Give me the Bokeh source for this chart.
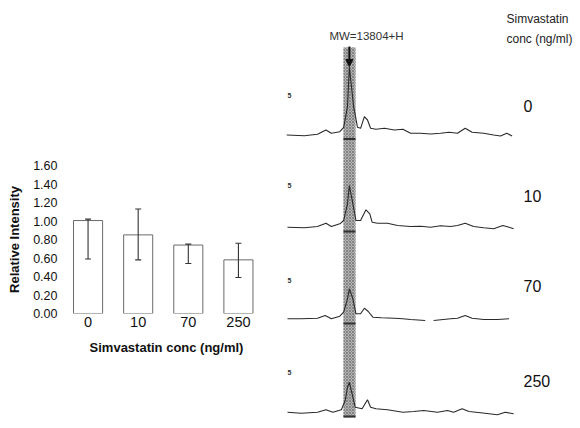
from bokeh.plotting import figure
from bokeh.layouts import row
from bokeh.models import (Range1d, FixedTicker, Whisker, ColumnDataSource, TeeHead,
                          Arrow, NormalHead, PrintfTickFormatter)
from bokeh.core.properties import value
from bokeh.embed import file_html
from bokeh.resources import INLINE

# ---------------- data: bar chart ----------------
cats = ["0", "10", "70", "250"]                 # Simvastatin conc (ng/ml)
means = [1.005, 0.85, 0.74, 0.58]               # relative intensity
err_hi = [1.02, 1.13, 0.75, 0.76]
err_lo = [0.59, 0.58, 0.54, 0.39]
y_ticks = [0.0, 0.2, 0.4, 0.6, 0.8, 1.0, 1.2, 1.4, 1.6]

# ---------------- data: spectra (m/z, intensity a.u. above baseline) ----------------
nan = float("nan")
mz_0 = [12990, 13220, 13390, 13500, 13570, 13680, 13730, 13780, 13804, 13860, 13910, 13950,
        14000, 14040, 14080, 14150, 14260, 14390, 14500, 14600, 14730, 14860, 14990, 15100,
        15210, 15310, 15400, 15550, 15680, 15770, 15850, 15920]
int_0 = [-1.0, -1.7, -0.3, 4.0, 0.7, 2.3, 6.7, 27.3, 67.0, 27.3, 6.7, 5.7,
         17.3, 14.0, 5.7, 4.7, 5.7, 4.0, 4.7, 0.7, 0.7, 0.0, 0.7, 1.7,
         0.7, 5.7, 1.7, 0.7, -1.0, -2.0, 0.7, -2.0]

mz_10 = [13000, 13220, 13390, 13500, 13570, 13680, 13730, 13780, 13804, 13850, 13890, 13950,
         14020, 14070, 14100, 14170, 14300, 14430, 14600, 14730, 14860, 14990, 15120, 15210,
         15310, 15420, 15550, 15680, 15800, 15880, 15940]
int_10 = [-0.7, -1.3, 0.0, 3.3, 0.0, 2.7, 6.0, 22.7, 41.0, 22.7, 6.0, 6.0,
          16.7, 12.7, 4.3, 3.3, 3.3, 1.0, 0.0, 0.3, -0.7, 0.7, 0.0, 1.0,
          3.3, 0.0, -1.3, -2.3, 1.0, -0.7, -2.3]

mz_70 = [13000, 13180, 13390, 13490, 13570, 13680, 13730, 13780, 13804, 13850, 13890, 13950,
         14000, 14050, 14110, 14220, 14390, 14500, 14600, 14790, 14850, 14900, 15120, 15210,
         15310, 15400, 15550, 15730, 15880]
int_70 = [-0.3, -0.3, 0.3, 3.0, -0.3, 2.3, 6.3, 19.7, 29.7, 19.7, 4.7, 4.7,
          10.3, 7.0, 1.3, 0.7, 0.3, -0.3, -1.0, -2.0, nan, -2.0, -0.3, 0.3,
          3.0, 0.3, -1.0, -1.0, -0.3]

mz_250 = [13000, 13180, 13390, 13500, 13590, 13700, 13750, 13780, 13804, 13840, 13880, 13970,
          14040, 14080, 14150, 14300, 14500, 14640, 14770, 14950, 15080, 15160, 15270, 15360,
          15510, 15730, 15830, 15940]
int_250 = [-0.7, -1.7, -0.7, 1.7, -0.7, 1.7, 11.0, 24.3, 29.3, 17.7, 4.3, 2.7,
           11.7, 4.3, 2.7, 1.7, -0.7, 0.0, 1.0, -0.7, 1.0, -0.7, 2.7, 0.0,
           -1.3, -3.3, -0.7, -2.3]

spectra_mz = [mz_0, mz_10, mz_70, mz_250]
spectra_int = [int_0, int_10, int_70, int_250]
peak_mz = 13804

FONT = "Liberation Sans"

# ---------------- left: bar chart ----------------
pos = list(range(len(cats)))
left = figure(width=285, height=428, x_range=Range1d(-0.51, 3.64), y_range=Range1d(0, 1.6),
              output_backend="svg", toolbar_location=None, frame_align=False,
              min_border_left=62, min_border_right=15, min_border_top=165, min_border_bottom=115)
left.outline_line_color = None
left.grid.visible = False
left.background_fill_color = "white"

left.vbar(x=pos, top=means, bottom=0, width=0.58, fill_color="white",
          line_color="#6a6a6a", line_width=1)

src = ColumnDataSource(dict(base=pos, upper=err_hi, lower=err_lo))
left.add_layout(Whisker(base="base", upper="upper", lower="lower", source=src, level="overlay",
                        line_color="#333333", line_width=1.1,
                        upper_head=TeeHead(size=6, line_color="#333333", line_width=1.1),
                        lower_head=TeeHead(size=6, line_color="#333333", line_width=1.1)))

for ax in (left.xaxis[0], left.yaxis[0]):
    ax.axis_line_color = None
    ax.major_tick_line_color = None
    ax.minor_tick_line_color = None
    ax.major_tick_out = 0
    ax.major_tick_in = 0
    ax.minor_tick_out = 0
    ax.minor_tick_in = 0
    ax.major_label_text_font = FONT
    ax.major_label_text_color = "#111111"
    ax.axis_label_text_font = FONT
    ax.axis_label_text_font_style = "bold"
    ax.axis_label_text_color = "#111111"

left.xaxis.ticker = FixedTicker(ticks=pos)
left.xaxis.major_label_overrides = {i: c for i, c in enumerate(cats)}
left.xaxis.major_label_text_font_size = "14.5px"
left.xaxis.major_label_standoff = 3
left.xaxis.axis_label = "Simvastatin conc (ng/ml)"
left.xaxis.axis_label_text_font_size = "13px"
left.xaxis.axis_label_standoff = 10

left.yaxis.ticker = FixedTicker(ticks=y_ticks)
left.yaxis.formatter = PrintfTickFormatter(format="%.2f")
left.yaxis.major_label_text_font_size = "12.5px"
left.yaxis.major_label_standoff = 5
left.yaxis.axis_label = "Relative Intensity"
left.yaxis.axis_label_text_font_size = "13px"
left.yaxis.axis_label_standoff = 8


# ---------------- right: spectra ----------------
def X(px):   # reference-pixel x -> m/z coordinate
    return 13000 + 13 * (px - 287)


def Y(py):   # reference-pixel y -> vertical coordinate
    return 428 - py


right = figure(width=295, height=428, x_range=Range1d(X(285), X(580)), y_range=Range1d(0, 428),
               output_backend="svg", toolbar_location=None, frame_align=False,
               x_axis_location=None, y_axis_location=None,
               min_border_left=0, min_border_right=0, min_border_top=0, min_border_bottom=0)
right.outline_line_color = None
right.grid.visible = False

# shaded band around the marker peak
right.quad(left=X(343), right=X(355), top=Y(47), bottom=Y(417),
           fill_color="#b4b4b4", line_color=None,
           hatch_pattern="diagonal_cross", hatch_color="#767676", hatch_scale=3, hatch_weight=0.8)

baselines = [133.5, 226, 318, 411]
for mzs, ints, b in zip(spectra_mz, spectra_int, baselines):
    off = Y(b)
    right.line(mzs, [off + v for v in ints], line_color="#2a2a2a", line_width=1.1)
    right.segment(x0=X(343), x1=X(355), y0=off - 5, y1=off - 5, line_color="#333333", line_width=2)

right.add_layout(Arrow(end=NormalHead(size=7, fill_color="#111111", line_color="#111111"),
                       x_start=peak_mz, y_start=Y(46), x_end=peak_mz, y_end=Y(66),
                       line_color="#111111", line_width=2))

right.text(x=[X(366)], y=[Y(35)], text=["MW=13804+H"], text_align="center", text_baseline="middle",
           text_font=value(FONT), text_font_size="11.5px", text_color="#333333")
right.text(x=[X(506), X(506)], y=[Y(18), Y(38)], text=["Simvastatin", "conc (ng/ml)"],
           text_align="left", text_baseline="middle",
           text_font=value(FONT), text_font_size="12px", text_color="#222222")
right.text(x=[X(523)] * 4, y=[Y(105), Y(195), Y(285), Y(380)], text=cats,
           text_align="left", text_baseline="middle",
           text_font=value(FONT), text_font_size="16px", text_color="#111111")
right.text(x=[X(289)] * 4, y=[Y(95), Y(185), Y(280), Y(372)], text=["5"] * 4,
           text_align="center", text_baseline="middle",
           text_font=value(FONT), text_font_size="7px", text_font_style="bold", text_color="#333333")

layout = row(left, right)
open("out.html", "w").write(file_html(layout, INLINE))
